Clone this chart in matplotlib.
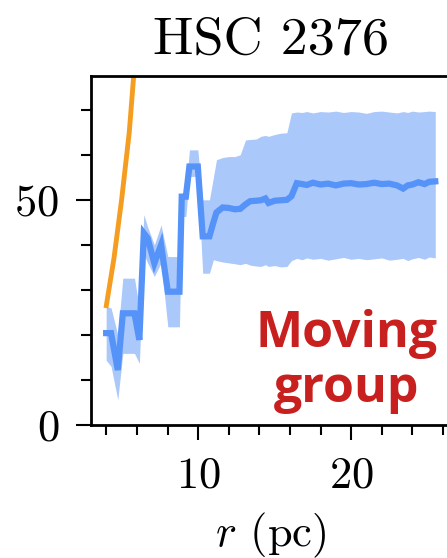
import numpy as np
import matplotlib
matplotlib.use("Agg")
import matplotlib.pyplot as plt
from matplotlib.ticker import MultipleLocator

plt.rcParams["font.family"] = "serif"
plt.rcParams["font.serif"] = ["cmr10"]
plt.rcParams["mathtext.fontset"] = "cm"
plt.rcParams["axes.formatter.use_mathtext"] = True

# running median with its spread, HSC 2376
r = [3.99, 4.31, 4.75, 5.08, 5.84, 6.16, 6.45, 6.7, 7.14, 7.58, 8.02, 8.78,
     8.93, 9.2, 9.43, 9.98, 10.3, 10.74, 11.0, 11.2, 11.6, 12.0, 12.4, 12.75,
     13.1, 13.4, 13.8, 14.1, 14.4, 14.6, 15.0, 15.4, 15.8, 16.1, 16.45, 16.8,
     17.1, 17.5, 18.0, 18.5, 19.0, 19.5, 20.0, 20.5, 21.0, 21.5, 22.0, 22.5,
     23.0, 23.4, 23.7, 24.0, 24.4, 24.8, 25.1, 25.5]
med = [20.4, 20.4, 12.2, 24.8, 24.8, 18.9, 42.6, 41.5, 35.9, 40.0, 29.6, 29.6,
       50.7, 50.7, 57.4, 57.4, 41.9, 41.9, 45.0, 47.2, 48.3, 48.2, 47.9, 48.0,
       49.0, 49.7, 49.8, 49.9, 50.3, 49.3, 49.8, 49.9, 50.0, 50.8, 53.7, 53.5,
       53.3, 53.8, 53.4, 53.6, 53.2, 53.6, 53.7, 53.4, 53.5, 53.8, 53.5, 53.6,
       53.2, 52.5, 53.2, 53.4, 53.9, 53.5, 54.0, 54.1]
hi = [26.3, 26.0, 20.0, 32.6, 32.6, 26.0, 46.7, 44.0, 40.0, 44.4, 37.4, 37.4,
      51.5, 51.5, 61.1, 61.1, 50.0, 50.0, 55.0, 58.9, 59.4, 59.6, 59.6, 60.0,
      63.3, 63.4, 63.5, 64.1, 64.3, 64.1, 64.5, 64.8, 64.9, 69.3, 69.5, 69.4,
      69.6, 69.3, 69.6, 69.5, 69.7, 69.4, 69.6, 69.5, 69.2, 69.6, 69.7, 69.5,
      69.3, 69.6, 69.4, 69.7, 69.5, 69.6, 69.7, 69.6]
lo = [14.4, 13.0, 5.6, 15.9, 15.9, 13.7, 38.0, 36.0, 33.0, 36.0, 21.8, 21.8,
      46.3, 46.3, 55.2, 55.2, 33.7, 33.7, 36.7, 36.5, 36.2, 36.0, 35.8, 35.6,
      35.9, 35.5, 35.3, 35.2, 35.6, 35.2, 35.4, 35.1, 35.2, 36.5, 37.0, 36.7,
      37.1, 36.8, 37.0, 36.6, 36.9, 37.2, 36.8, 37.0, 36.7, 36.9, 37.1, 36.6,
      36.8, 37.0, 36.5, 36.9, 37.2, 36.8, 37.3, 37.1]

# reference curve
r_ref = [4.0, 4.5, 5.0, 5.5, 5.8, 6.0]
v_ref = [26.5, 37.0, 50.0, 65.0, 78.0, 86.0]

fig = plt.figure(figsize=(4.47, 5.58), dpi=100)
ax = fig.add_axes([0.2036, 0.2384, 0.8044, 0.6254])

ax.fill_between(r, lo, hi, color="#abc8fa", lw=0)
ax.plot(r, med, color="#5693f8", lw=4.5, solid_joinstyle="miter")
ax.plot(r_ref, v_ref, color="#f59d20", lw=3.5)

ax.set_xlim(3, 26.5)
ax.set_ylim(0, 77.5)
ax.xaxis.set_major_locator(MultipleLocator(10))
ax.xaxis.set_minor_locator(MultipleLocator(2))
ax.yaxis.set_major_locator(MultipleLocator(50))
ax.yaxis.set_minor_locator(MultipleLocator(10))
ax.tick_params(which="major", length=11, width=1.5, labelsize=32, pad=12)
ax.tick_params(which="minor", length=7, width=1.5)
for s in ax.spines.values():
    s.set_linewidth(2)

ax.set_title("HSC 2376", fontsize=39, pad=16)
ax.set_xlabel("$r$ (pc)", fontsize=32, labelpad=10)

fig.text(0.776, 0.352, "Moving\ngroup", family="Open Sans", weight="bold",
         color="#c81f1f", fontsize=36, ha="center", va="center",
         linespacing=1.15)

fig.savefig("out.png", dpi=100)
